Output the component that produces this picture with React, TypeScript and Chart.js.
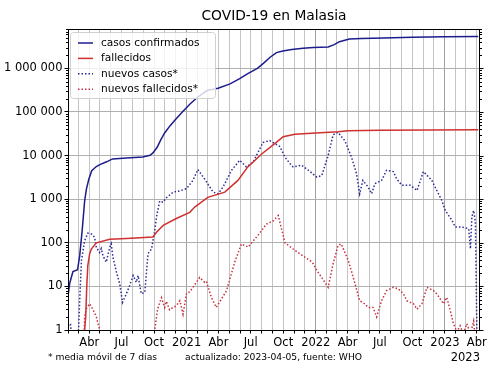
import React, { useEffect, useRef } from 'react';
import { Chart, registerables } from 'chart.js';

Chart.register(...registerables);

const TITLE = 'COVID-19 en Malasia';
const FOOT_LEFT = '* media móvil de 7 días';
const FOOT_MID = 'actualizado: 2023-04-05, fuente: WHO';
const OFFSET_YEAR = '2023';
const SERIES_NAMES = ['casos confirmados', 'fallecidos', 'nuevos casos*', 'nuevos fallecidos*'];
const MONTH_TICK_LABELS: Record<number, string> = { 3: 'Abr', 6: 'Jul', 9: 'Oct' };
const Y_TICKS = [1, 10, 100, 1000, 10000, 100000, 1000000];
const X_MIN_DATE = '2020-02-01';
const X_MAX_DATE = '2023-04-10';
const Y_MIN = 1;
const Y_MAX = 8.0e6;

const casosDates = ['2020-02-01','2020-02-06','2020-02-15','2020-02-28','2020-03-05','2020-03-12','2020-03-19','2020-03-24','2020-03-31','2020-04-08','2020-04-21','2020-05-01','2020-05-20','2020-06-06','2020-07-15','2020-08-30','2020-09-20','2020-09-28','2020-10-10','2020-10-20','2020-10-31','2020-11-15','2020-11-30','2020-12-20','2021-01-10','2021-01-31','2021-02-28','2021-03-31','2021-05-04','2021-05-31','2021-06-23','2021-07-20','2021-08-06','2021-08-25','2021-09-12','2021-09-30','2021-10-25','2021-11-26','2021-12-25','2022-02-05','2022-02-22','2022-03-09','2022-04-06','2022-05-10','2022-07-11','2022-10-01','2023-01-01','2023-04-05'];
const casosValues = [6,12,22,24,50,190,900,1700,2900,4500,5600,6200,7200,8400,8800,9300,10200,11500,15500,23000,33000,48000,66000,100000,150000,215000,310000,350000,440000,580000,760000,1000000,1300000,1800000,2300000,2500000,2700000,2900000,3000000,3100000,3500000,4100000,4700000,4850000,5000000,5150000,5300000,5400000];

const fallecidosDates = ['2020-03-19','2020-03-22','2020-03-25','2020-03-28','2020-04-02','2020-04-07','2020-04-21','2020-05-29','2020-07-15','2020-09-28','2020-10-08','2020-10-27','2020-12-03','2021-01-10','2021-01-24','2021-03-02','2021-04-19','2021-05-26','2021-06-23','2021-08-02','2021-09-08','2021-10-01','2021-11-03','2022-01-01','2022-03-05','2022-04-02','2022-07-01','2023-04-05'];
const fallecidosValues = [1,2,10,30,55,72,100,120,125,136,175,250,360,500,660,1100,1450,2700,5500,11000,19000,27000,31000,33000,35000,37000,38000,39000];

const nuevosCasosDates = ['2020-02-01','2020-02-08','2020-02-14','2020-02-29','2020-03-05','2020-03-10','2020-03-19','2020-03-28','2020-04-07','2020-04-16','2020-04-21','2020-04-30','2020-05-05','2020-05-10','2020-05-19','2020-05-29','2020-06-02','2020-06-07','2020-06-17','2020-06-26','2020-07-04','2020-07-15','2020-07-24','2020-08-03','2020-08-12','2020-08-17','2020-08-26','2020-09-05','2020-09-14','2020-09-24','2020-10-03','2020-10-08','2020-10-17','2020-10-27','2020-11-03','2020-11-24','2020-12-13','2021-01-01','2021-01-19','2021-02-02','2021-02-21','2021-03-17','2021-03-31','2021-04-14','2021-05-08','2021-05-31','2021-06-19','2021-07-08','2021-08-05','2021-08-24','2021-09-07','2021-09-22','2021-10-06','2021-10-20','2021-10-29','2021-11-22','2021-12-16','2022-01-04','2022-01-18','2022-02-05','2022-02-19','2022-03-05','2022-03-24','2022-04-12','2022-04-26','2022-05-05','2022-05-14','2022-05-29','2022-06-08','2022-06-17','2022-07-06','2022-07-20','2022-08-08','2022-08-18','2022-09-01','2022-09-25','2022-10-14','2022-11-01','2022-11-25','2022-12-04','2022-12-23','2023-01-02','2023-01-21','2023-01-30','2023-02-18','2023-03-09','2023-03-14','2023-03-18','2023-03-23','2023-03-28','2023-04-02'];
const nuevosCasosValues = [1.25,1.4,0.4,0.4,4.7,39,112,166,160,135,79,60,74,50,36,79,95,47,21,11.6,4.3,6.8,10.4,17.7,12.4,17.7,6.8,7.3,56,72,190,390,900,850,1050,1450,1550,1750,2700,4800,2900,1450,1330,1900,4600,7800,5500,7100,20000,22000,19000,16000,9200,6600,5500,6000,4300,3200,3500,10000,30000,34000,22000,9200,3900,1330,2700,1900,1330,2270,2700,4600,4300,2900,2100,2100,1580,4300,2700,1900,940,550,325,230,230,210,73,390,550,300,0.3];

const nuevosFallecidosDates = ['2020-03-17','2020-03-19','2020-03-24','2020-04-02','2020-04-11','2020-04-21','2020-04-30','2020-05-06','2020-09-30','2020-10-03','2020-10-11','2020-10-22','2020-10-31','2020-11-05','2020-11-14','2020-11-24','2020-12-03','2020-12-13','2020-12-22','2021-01-01','2021-01-10','2021-01-19','2021-02-07','2021-02-21','2021-02-26','2021-03-12','2021-03-26','2021-04-10','2021-04-24','2021-05-17','2021-06-05','2021-06-24','2021-07-22','2021-08-15','2021-09-03','2021-09-17','2021-10-06','2021-10-29','2021-11-17','2021-12-01','2021-12-16','2021-12-25','2022-01-04','2022-01-18','2022-02-05','2022-02-19','2022-03-05','2022-03-14','2022-04-03','2022-04-17','2022-05-05','2022-05-19','2022-05-29','2022-06-12','2022-06-22','2022-07-06','2022-07-20','2022-08-08','2022-08-22','2022-09-06','2022-09-15','2022-10-04','2022-10-14','2022-10-28','2022-11-11','2022-11-30','2022-12-09','2022-12-28','2023-01-06','2023-01-16','2023-01-25','2023-02-04','2023-02-13','2023-02-22','2023-03-04','2023-03-14','2023-03-23','2023-03-30'];
const nuevosFallecidosValues = [0.4,1.95,3.1,4,3,2,1.05,0.4,0.4,1,3,5.5,3.3,4.5,2.9,3.3,3.6,4.7,2.3,7,7.5,9.5,16,12.4,13,5.6,3.3,5.2,8,36,94,80,150,270,320,420,100,72,56,47,39,33,23,16,9.5,33,87,94,39,16,4.7,4,3.3,3.3,2,4.7,8,9.5,8.8,6.7,4.7,4,3,4,9.5,8,6.7,4,5.6,2.8,1.4,0.9,1.25,0.8,1.4,0.8,1.6,0.4];

const COLORS = ['#1c1c8c', '#d03030', '#2a2a96', '#c83040'];
const FONT = '"DejaVu Sans", sans-serif';

function dayNum(s: string): number {
  const [y, m, d] = s.split('-').map(Number);
  return (Date.UTC(y, m - 1, d) - Date.UTC(2020, 0, 1)) / 86400000;
}

function toPoints(dates: string[], values: number[]) {
  return dates.map((d, i) => ({ x: dayNum(d), y: values[i] }));
}

function formatThousands(v: number): string {
  return String(Math.round(v)).replace(/\B(?=(\d{3})+(?!\d))/g, ' ');
}

const decorPlugin = {
  id: 'decor',
  afterDatasetsDraw(chart: any) {
    const ctx = chart.ctx;
    const { left, right, top, bottom } = chart.chartArea;
    const ys = chart.scales.y;
    ctx.save();
    ctx.strokeStyle = '#000';
    ctx.lineWidth = 1;
    ctx.strokeRect(Math.round(left) + 0.5, Math.round(top) + 0.5, Math.round(right - left) - 1, Math.round(bottom - top));
    ctx.beginPath();
    for (let e = 0; e <= 7; e++) {
      for (let k = 1; k <= 9; k++) {
        const v = k * Math.pow(10, e);
        if (v < Y_MIN || v > Y_MAX) continue;
        const y = Math.round(ys.getPixelForValue(v)) + 0.5;
        const len = k === 1 ? 3.5 : 2;
        if (k !== 1) {
          ctx.moveTo(left - len, y);
          ctx.lineTo(left, y);
        }
        ctx.moveTo(right, y);
        ctx.lineTo(right + len, y);
      }
    }
    ctx.stroke();

    const lx = 70.5, ly = 32.5, lw = 145, lh = 66, r = 3;
    ctx.beginPath();
    ctx.moveTo(lx + r, ly);
    ctx.lineTo(lx + lw - r, ly);
    ctx.quadraticCurveTo(lx + lw, ly, lx + lw, ly + r);
    ctx.lineTo(lx + lw, ly + lh - r);
    ctx.quadraticCurveTo(lx + lw, ly + lh, lx + lw - r, ly + lh);
    ctx.lineTo(lx + r, ly + lh);
    ctx.quadraticCurveTo(lx, ly + lh, lx, ly + lh - r);
    ctx.lineTo(lx, ly + r);
    ctx.quadraticCurveTo(lx, ly, lx + r, ly);
    ctx.closePath();
    ctx.fillStyle = 'rgba(255,255,255,0.8)';
    ctx.fill();
    ctx.strokeStyle = '#d0d0d0';
    ctx.lineWidth = 1;
    ctx.stroke();
    SERIES_NAMES.forEach((name, i) => {
      const yy = 43 + i * 15.4;
      ctx.beginPath();
      ctx.strokeStyle = COLORS[i];
      ctx.lineWidth = 1.5;
      ctx.setLineDash(i >= 2 ? [1.5, 2] : []);
      ctx.moveTo(78, yy);
      ctx.lineTo(93, yy);
      ctx.stroke();
      ctx.setLineDash([]);
      ctx.fillStyle = '#000';
      ctx.font = `10.6px ${FONT}`;
      ctx.textBaseline = 'middle';
      ctx.textAlign = 'left';
      ctx.fillText(name, 101, yy);
    });

    ctx.fillStyle = '#000';
    ctx.textAlign = 'center';
    ctx.textBaseline = 'middle';
    ctx.font = `13.8px ${FONT}`;
    ctx.fillText(TITLE, (left + right) / 2, 16);
    ctx.font = `9.2px ${FONT}`;
    ctx.textAlign = 'left';
    ctx.fillText(FOOT_LEFT, 48, 358);
    ctx.fillText(FOOT_MID, 185, 358);
    ctx.font = `11.5px ${FONT}`;
    ctx.textAlign = 'right';
    ctx.fillText(OFFSET_YEAR, right, 358);
    ctx.restore();
  },
};

export default function App() {
  const ref = useRef<HTMLCanvasElement | null>(null);
  useEffect(() => {
    document.body.style.margin = '0';
    const canvas = ref.current!;
    const xMin = dayNum(X_MIN_DATE);
    const xMax = dayNum(X_MAX_DATE);
    const common = { pointRadius: 0, borderWidth: 1.5, tension: 0, fill: false };
    const chart = new Chart(canvas, {
      type: 'line',
      data: {
        datasets: [
          { ...common, label: SERIES_NAMES[0], data: toPoints(casosDates, casosValues), borderColor: COLORS[0] },
          { ...common, label: SERIES_NAMES[1], data: toPoints(fallecidosDates, fallecidosValues), borderColor: COLORS[1] },
          { ...common, label: SERIES_NAMES[2], data: toPoints(nuevosCasosDates, nuevosCasosValues), borderColor: COLORS[2], borderDash: [1.5, 2] },
          { ...common, label: SERIES_NAMES[3], data: toPoints(nuevosFallecidosDates, nuevosFallecidosValues), borderColor: COLORS[3], borderDash: [1.5, 2] },
        ],
      } as any,
      options: {
        animation: false,
        responsive: false,
        maintainAspectRatio: false,
        layout: { padding: { left: 0, right: 20, top: 29, bottom: 0 } },
        plugins: { legend: { display: false }, title: { display: false }, tooltip: { enabled: false } },
        scales: {
          x: {
            type: 'linear',
            min: xMin,
            max: xMax,
            afterBuildTicks: (scale: any) => {
              const ticks: any[] = [];
              for (let y = 2020; y <= 2023; y++) {
                for (let m = 0; m < 12; m++) {
                  const d = (Date.UTC(y, m, 1) - Date.UTC(2020, 0, 1)) / 86400000;
                  if (d >= xMin && d <= xMax) ticks.push({ value: d });
                }
              }
              scale.ticks = ticks;
            },
            afterFit: (scale: any) => { scale.height = 45; },
            ticks: {
              autoSkip: false,
              maxRotation: 0,
              minRotation: 0,
              padding: 3,
              color: '#000',
              font: { family: FONT, size: 11.5 },
              callback: (value: any) => {
                const dt = new Date(Date.UTC(2020, 0, 1) + Number(value) * 86400000);
                const m = dt.getUTCMonth();
                if (m === 0) return String(dt.getUTCFullYear());
                return MONTH_TICK_LABELS[m] || '';
              },
            },
            grid: {
              color: (c: any) => {
                const v = c.tick ? c.tick.value : 0;
                const dt = new Date(Date.UTC(2020, 0, 1) + v * 86400000);
                return dt.getUTCMonth() === 0 ? '#a0a0a0' : '#c4c4c4';
              },
              lineWidth: 1,
              tickColor: '#000',
              tickLength: 3.5,
            },
            border: { display: false },
          },
          y: {
            type: 'logarithmic',
            min: Y_MIN,
            max: Y_MAX,
            afterBuildTicks: (scale: any) => {
              scale.ticks = Y_TICKS.map((v) => ({ value: v }));
            },
            afterFit: (scale: any) => { scale.width = 68; },
            ticks: {
              autoSkip: false,
              padding: 2,
              color: '#000',
              font: { family: FONT, size: 11.5 },
              callback: (value: any) => formatThousands(Number(value)),
            },
            grid: {
              color: '#b0b0b0',
              lineWidth: 1,
              tickColor: '#000',
              tickLength: 3.5,
            },
            border: { display: false },
          },
        },
      } as any,
      plugins: [decorPlugin],
    });
    return () => chart.destroy();
  }, []);
  return (
    <div style={{ width: 500, height: 375 }}>
      <canvas ref={ref} width={500} height={375} style={{ width: 500, height: 375, display: 'block' }} />
    </div>
  );
}
